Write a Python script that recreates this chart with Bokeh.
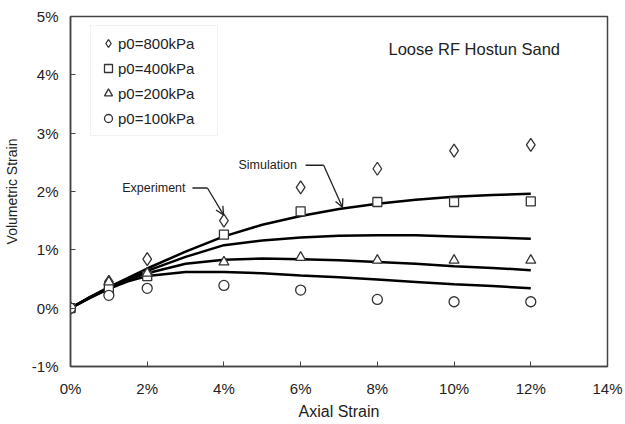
import math
from bokeh.plotting import figure
from bokeh.models import (Range1d, FixedTicker, PrintfTickFormatter, Label, Arrow,
                          OpenHead, Legend, LegendItem, ColumnDataSource)
from bokeh.embed import file_html
from bokeh.resources import INLINE

FONT = "Liberation Sans"

# ---- experimental data (axial strain %, volumetric strain %) ----
exp_x = [0, 1, 2, 4, 6, 8, 10, 12]
exp_800 = [0.0, 0.45, 0.84, 1.50, 2.07, 2.39, 2.70, 2.80]
exp_400 = [0.0, 0.35, 0.55, 1.26, 1.66, 1.82, 1.82, 1.83]
exp_200 = [0.0, 0.45, 0.60, 0.79, 0.87, 0.82, 0.82, 0.82]
exp_100 = [0.0, 0.22, 0.34, 0.39, 0.31, 0.15, 0.11, 0.11]

# ---- simulation curves ----
sim_x = [0, 0.5, 1, 1.5, 2, 3, 4, 5, 6, 7, 8, 9, 10, 11, 12]
sim_800 = [0.0, 0.19, 0.36, 0.52, 0.68, 0.97, 1.23, 1.43, 1.58, 1.70, 1.79, 1.86, 1.91, 1.94, 1.96]
sim_400 = [0.0, 0.18, 0.35, 0.50, 0.64, 0.88, 1.08, 1.16, 1.21, 1.24, 1.25, 1.25, 1.23, 1.21, 1.19]
sim_200 = [0.0, 0.18, 0.34, 0.48, 0.60, 0.76, 0.83, 0.85, 0.84, 0.82, 0.79, 0.76, 0.72, 0.69, 0.65]
sim_100 = [0.0, 0.17, 0.33, 0.46, 0.55, 0.62, 0.62, 0.60, 0.56, 0.53, 0.49, 0.45, 0.41, 0.38, 0.34]

labels = ["p0=800kPa", "p0=400kPa", "p0=200kPa", "p0=100kPa"]
x_ticks = [0, 2, 4, 6, 8, 10, 12, 14]
y_ticks = [-1, 0, 1, 2, 3, 4, 5]

p = figure(frame_width=537, frame_height=350, output_backend="svg", toolbar_location=None,
           x_range=Range1d(0, 14), y_range=Range1d(-1, 5),
           min_border_left=70, min_border_right=16, min_border_top=16, min_border_bottom=56)
p.xgrid.visible = False
p.ygrid.visible = False
p.outline_line_color = "#444444"
p.outline_line_width = 1.5
p.background_fill_color = "white"
p.border_fill_color = "white"

for ax in (p.xaxis[0], p.yaxis[0]):
    ax.axis_line_color = "#444444"
    ax.axis_line_width = 1.5
    ax.major_tick_in = 5
    ax.major_tick_out = 0
    ax.major_tick_line_color = "#444444"
    ax.minor_tick_line_color = None
    ax.major_label_text_font = FONT
    ax.major_label_text_font_size = "15px"
    ax.major_label_text_color = "#222222"
    ax.formatter = PrintfTickFormatter(format="%d%%")
    ax.axis_label_text_font = FONT
    ax.axis_label_text_font_style = "normal"
    ax.axis_label_text_color = "#222222"

p.xaxis.ticker = FixedTicker(ticks=x_ticks)
p.yaxis.ticker = FixedTicker(ticks=y_ticks)
p.xaxis.major_label_standoff = 13
p.yaxis.major_label_standoff = 12
p.xaxis.axis_label = "Axial Strain"
p.xaxis.axis_label_text_font_size = "16px"
p.xaxis.axis_label_standoff = 3
p.yaxis.axis_label = "Volumetric Strain"
p.yaxis.axis_label_text_font_size = "14px"
p.yaxis.axis_label_standoff = 9

# simulation lines
for ys in (sim_800, sim_400, sim_200, sim_100):
    p.line(sim_x, ys, line_color="black", line_width=2.5)

mk = dict(fill_color="white", line_color="#333333", line_width=1.3)
r800 = p.scatter(exp_x, exp_800, marker="diamond", size=13, **mk)
r400 = p.scatter(exp_x, exp_400, marker="square", size=9, **mk)
r200 = p.scatter(exp_x, exp_200, marker="triangle", size=10, **mk)
r100 = p.scatter(exp_x, exp_100, marker="circle", size=10, **mk)

legend = Legend(items=[LegendItem(label=labels[0], renderers=[r800]),
                       LegendItem(label=labels[1], renderers=[r400]),
                       LegendItem(label=labels[2], renderers=[r200]),
                       LegendItem(label=labels[3], renderers=[r100])],
                location=(20, 230), margin=0, padding=7, spacing=5,
                glyph_width=20, glyph_height=20, label_height=20, label_width=92,
                label_standoff=0, label_text_font=FONT, label_text_font_size="15px",
                label_text_color="#222222", border_line_color="#e6e6e6",
                background_fill_alpha=1.0)
p.add_layout(legend, "center")

# annotations
p.add_layout(Label(x=8.29, y=4.44, text="Loose RF Hostun Sand", text_font=FONT,
                   text_font_size="16.5px", text_color="#222222", text_baseline="middle"))
p.add_layout(Label(x=1.35, y=2.06, text="Experiment", text_font=FONT,
                   text_font_size="12.5px", text_color="#222222", text_baseline="middle"))
p.add_layout(Label(x=4.38, y=2.45, text="Simulation", text_font=FONT,
                   text_font_size="12.5px", text_color="#222222", text_baseline="middle"))

seg = ColumnDataSource(dict(x0=[3.18, 6.13], y0=[2.06, 2.45], x1=[3.57, 6.60], y1=[2.06, 2.45]))
p.segment(x0="x0", y0="y0", x1="x1", y1="y1", source=seg, line_color="#222222", line_width=1.5)
p.add_layout(Arrow(end=OpenHead(size=8, line_width=1.3, line_color="#222222"),
                   x_start=3.57, y_start=2.06, x_end=3.99, y_end=1.60,
                   line_width=1.3, line_color="#222222"))
p.add_layout(Arrow(end=OpenHead(size=8, line_width=1.3, line_color="#222222"),
                   x_start=6.60, y_start=2.45, x_end=7.09, y_end=1.73,
                   line_width=1.3, line_color="#222222"))

open("out.html", "w").write(file_html(p, INLINE))
